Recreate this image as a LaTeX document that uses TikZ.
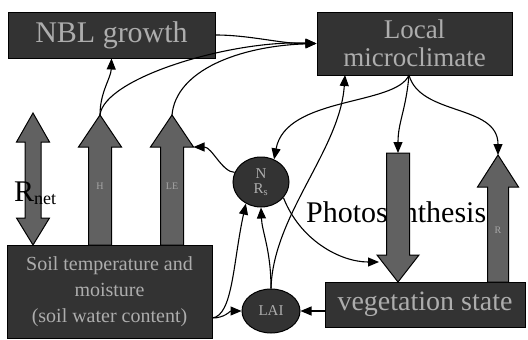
\documentclass[tikz,border=0pt]{standalone}
\usepackage{fontspec}
\setmainfont{Liberation Serif}
\usetikzlibrary{arrows.meta,calc,shapes.geometric}
\begin{document}
\begin{tikzpicture}[x=1pt,y=-1pt,
  box/.style={draw=black,line width=1pt,fill=black!80,text=black!32,inner sep=0pt,align=center},
  blob/.style={ellipse,draw=black,line width=1pt,fill=black!80,text=black!32,inner sep=0pt,align=center,font=\fontsize{15}{15}\selectfont},
  conn/.style={draw=black,line width=1.1pt,-{Triangle[length=11pt,width=9pt]}},
  blockarrow/.style={fill=black!62,draw=black,line width=1pt},
  arrlabel/.style={text=black!35,font=\fontsize{10}{10}\selectfont,inner sep=0pt},
  biglabel/.style={text=black,inner sep=0pt,font=\fontsize{30}{30}\selectfont}]

\useasboundingbox (0,0) rectangle (528,340);

% text lying under the block arrows
\node[biglabel,anchor=base west] (photo) at (306,222) {Photosynthesis};

% boxes and ellipses
\node[box,minimum width=207pt,minimum height=46pt,font=\fontsize{30}{30}\selectfont] (nbl) at (111.5,35) {NBL growth};
\node[box,minimum width=195pt,minimum height=63pt,font=\fontsize{27}{28}\selectfont] (micro) at (414.5,43.5) {Local\\microclimate};
\node[box,minimum width=205pt,minimum height=93pt,font=\fontsize{20}{26}\selectfont] (soil) at (109.5,291.5) {Soil temperature and\\moisture\\(soil water content)};
\node[box,minimum width=200pt,minimum height=45pt,font=\fontsize{28}{28}\selectfont] (veg) at (425,304.5) {vegetation state};
\node[blob,minimum width=56pt,minimum height=50pt] (E1) at (261,182) {N\\R\textsubscript{s}};
\node[blob,minimum width=58pt,minimum height=44pt] (E2) at (271,311) {LAI};

% block arrows
\filldraw[blockarrow] (25,142) -- (16.5,142) -- (33,113) -- (49.5,142) -- (41,142) -- (41,218) -- (49.5,218) -- (33,245) -- (16.5,218) -- (25,218) -- cycle;
\filldraw[blockarrow] (88.5,245) -- (88.5,147) -- (78.5,147) -- (100,115) -- (121.5,147) -- (111.5,147) -- (111.5,245) -- cycle;
\filldraw[blockarrow] (160.5,245) -- (160.5,147) -- (150.5,147) -- (172,115) -- (193.5,147) -- (183.5,147) -- (183.5,245) -- cycle;
\filldraw[blockarrow] (386.5,153) -- (409.5,153) -- (409.5,255) -- (419,255) -- (398,282) -- (377,255) -- (386.5,255) -- cycle;
\filldraw[blockarrow] (487.5,282) -- (487.5,187) -- (477.5,187) -- (498,155) -- (518.5,187) -- (508.5,187) -- (508.5,282) -- cycle;

\node[arrlabel] (hlab) at (100,186) {H};
\node[arrlabel] (lelab) at (172,186) {LE};
\node[arrlabel] (rlab) at (498,230) {R};

\node[biglabel,anchor=base west] (rnet) at (14,201) {R\raisebox{-0.25ex}{\fontsize{18}{18}\selectfont net}};

% connector end points
\coordinate (Htip) at (100,115);
\coordinate (LEtip) at (172,115);
\coordinate (LEcorner) at (193.5,147);
\coordinate (Ptop) at (398,153);
\coordinate (Pside) at (379,262);
\coordinate (Rtip) at (498,155);
\coordinate (msplit) at (409,75);
\coordinate (mleft) at (345,75);
\coordinate (sr) at (212,318);

% connectors
\draw[conn] (Htip) .. controls (100,92) and (111,78) .. (nbl.south);
\draw[conn] (Htip) .. controls (104,78) and (230,40) .. (micro.west);
\draw[conn] (LEtip) .. controls (176,70) and (240,46) .. (micro.west);
\draw[conn] (nbl.east) .. controls (250,35) and (282,44) .. (micro.west);
\draw[conn] (msplit) .. controls (396,106) and (286,96) .. (E1.60);
\draw[conn] (msplit) .. controls (406,110) and (398,122) .. (Ptop);
\draw[conn] (msplit) .. controls (420,116) and (498,104) .. (Rtip);
\draw[conn] (E1.160) .. controls (222,172) and (212,147) .. (LEcorner);
\draw[conn] (E1.-35) .. controls (300,240) and (340,262) .. (Pside);
\draw[conn] (E2.north) .. controls (271,250) and (262,232) .. (E1.south);
\draw[conn] (E2.north) .. controls (273,215) and (340,150) .. (mleft);
\draw[conn] (sr) .. controls (233,316) and (233,262) .. (E1.235);
\draw[conn] (sr) .. controls (225,318) and (230,311) .. (E2.west);
\draw[conn] (veg.west |- E2.east) -- (E2.east);
\end{tikzpicture}
\end{document}
